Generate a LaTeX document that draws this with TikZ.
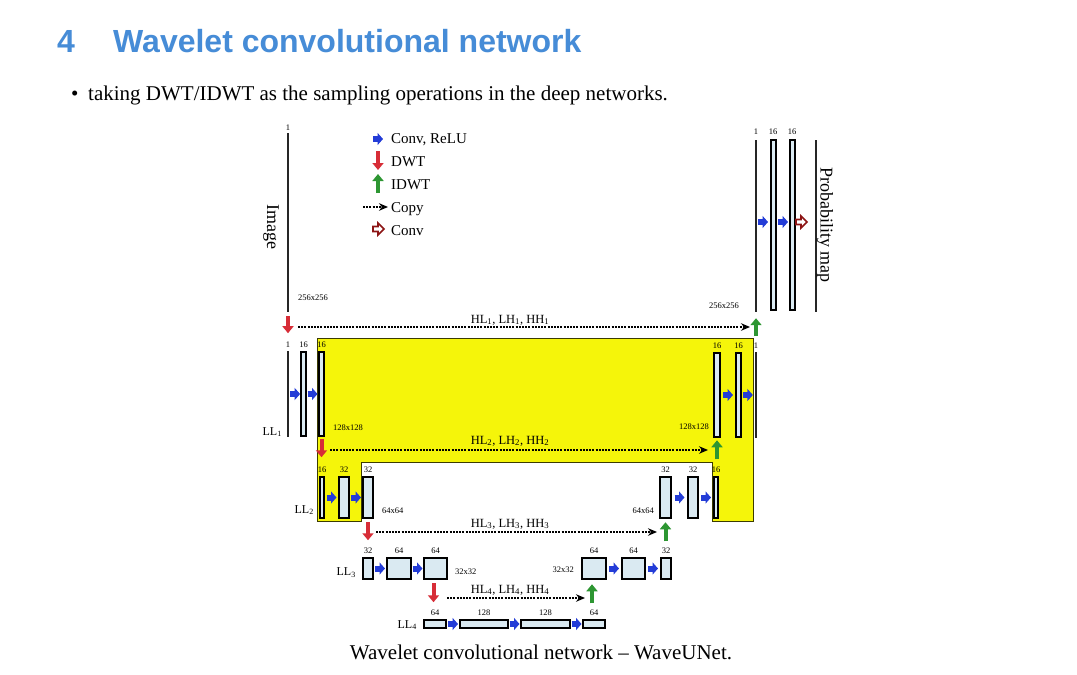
\documentclass[tikz,border=0pt]{standalone}
\usepackage{fontspec}
\setmainfont{Liberation Serif}
\newfontfamily\titlefont{Liberation Sans}
\usetikzlibrary{arrows.meta,calc}
\definecolor{titleblue}{RGB}{70,140,215}
\definecolor{convblue}{RGB}{35,60,215}
\definecolor{dwtred}{RGB}{215,45,55}
\definecolor{idwtgreen}{RGB}{45,150,50}
\definecolor{convdark}{RGB}{140,20,20}
\definecolor{mapfill}{RGB}{218,234,242}
\definecolor{skipyellow}{RGB}{245,245,10}
\definecolor{skipedge}{RGB}{60,60,0}
\newcommand\fmbox[5]{\node[fmap,minimum width={#3-#2-1.5},minimum height={#5-#4-1.5}] (#1) at ({(#2+#3)/2},{(#4+#5)/2}) {};}
\newcommand\fmline[4]{\node[fline,minimum height={#4-#3}] (#1) at (#2,{(#3+#4)/2}) {};}
\newcommand\toplab[2]{\node[num,anchor=south] at ($(#1.north)+(0,-3.5)$) {#2};}
\newcommand\convarr[2]{\draw[convrelu] ($(#1.east)!.5!(#2.west)+(-5,0)$) -- ++(10,0);}
\begin{document}
\begin{tikzpicture}[x=1pt,y=-1pt,
  fmap/.style={draw=black,line width=1.7pt,fill=mapfill,inner sep=0pt,outer sep=0pt},
  fline/.style={fill=black!85,draw=none,inner sep=0pt,minimum width=2.6pt},
  num/.style={font=\fontsize{8.5}{9}\selectfont,inner sep=0pt},
  dimlab/.style={font=\fontsize{8.5}{9}\selectfont,inner sep=0pt},
  lvl/.style={font=\fontsize{12}{12}\selectfont,inner sep=0pt,anchor=east},
  hlab/.style={font=\fontsize{12.5}{13}\selectfont,inner sep=0pt},
  legendtxt/.style={font=\fontsize{15}{15}\selectfont,inner sep=0pt,anchor=base west},
  convrelu/.style={draw=convblue,line width=6pt,-{Triangle[length=5.5pt,width=12pt]}},
  dwt/.style={draw=dwtred,line width=4pt,-{Triangle[length=7pt,width=11pt]}},
  idwt/.style={draw=idwtgreen,line width=4pt,-{Triangle[length=7pt,width=11pt]}},
  copyarrow/.style={draw=black,line width=1.2pt,dash pattern=on 2pt off 1.2pt,-{Stealth[length=9pt,width=7.5pt]}},
  convout/.pic={\draw[convdark,line width=1.6pt,fill=white,line join=miter] (-5,-2.5) -- (0,-2.5) -- (0,-6) -- (6,0) -- (0,6) -- (0,2.5) -- (-5,2.5) -- cycle;}
]
\useasboundingbox (0,0) rectangle (1077,675);
\fill[white] (0,0) rectangle (1077,675);

% title
\node[anchor=base west,inner sep=0pt,font=\titlefont\bfseries\fontsize{32}{32}\selectfont,text=titleblue] (num4) at (57,52) {4};
\node[anchor=base west,inner sep=0pt,font=\titlefont\bfseries\fontsize{32}{32}\selectfont,text=titleblue] (title) at (113,52) {Wavelet convolutional network};
\node[anchor=base west,inner sep=0pt,font=\fontsize{21}{21}\selectfont] (bul) at (71,100) {\textbullet};
\node[anchor=base west,inner sep=0pt,font=\fontsize{21}{21}\selectfont] (sub) at (88,100) {taking DWT/IDWT as the sampling operations in the deep networks.};

% legend
\coordinate (lg1) at (378,139);
\draw[convrelu] ($(lg1)+(-5,0)$) -- ++(10,0);
\node[legendtxt] (lt1) at (391,143) {Conv, ReLU};
\draw[dwt] (378,151) -- (378,170);
\node[legendtxt] (lt2) at (391,166) {DWT};
\draw[idwt] (378,193) -- (378,174);
\node[legendtxt] (lt3) at (391,189) {IDWT};
\coordinate (lgc1) at (363,207);
\coordinate (lgc2) at (388,207);
\draw[copyarrow] (lgc1) -- (lgc2);
\node[legendtxt] (lt4) at (391,212) {Copy};
\pic at (378,229) {convout};
\node[legendtxt] (lt5) at (391,235) {Conv};

% yellow skip region
\draw[fill=skipyellow,draw=skipedge,line width=1pt] (317,338) -- (753,338) -- (753,521) -- (712,521) -- (712,462) -- (361,462) -- (361,521) -- (317,521) -- cycle;

% level 0 : input image
\fmline{img}{288}{133}{312}
\node[num,anchor=south] at ($(img.north)+(0,-2.5)$) {1};
\node[rotate=-90,inner sep=0pt,font=\fontsize{18}{18}\selectfont] (imgtxt) at (271,227) {Image};
\node[dimlab,anchor=west] at (298,298) {256x256};

% level 0 : output
\fmline{r0a}{756}{140}{312}
\fmbox{r0b}{770}{777}{139}{311}
\fmbox{r0c}{789}{796}{139}{311}
\fmline{r0d}{816}{140}{312}
\node[num,anchor=south] at (756,135) {1};
\node[num,anchor=south] at (773,135) {16};
\node[num,anchor=south] at (792,135) {16};
\node[rotate=-90,inner sep=0pt,font=\fontsize{18}{18}\selectfont] (probtxt) at (825,225) {Probability map};
\node[dimlab,anchor=east] at (739,306) {256x256};
\draw[convrelu] (758,222) -- ++(10,0);
\draw[convrelu] (778,222) -- ++(10,0);
\pic at (801,222) {convout};

% level 0 skip
\draw[dwt] ($(img.south)+(0,4)$) -- ++(0,17);
\coordinate (c1s) at (298,327);
\coordinate (c1e) at (750,327);
\draw[copyarrow] (c1s) -- (c1e);
\node[hlab] at (510,320) {HL\textsubscript{1}, LH\textsubscript{1}, HH\textsubscript{1}};
\draw[idwt] ($(r0a.south)+(0,24)$) -- ++(0,-18);

% level 1
\fmline{l1a}{288}{351}{437}
\fmbox{l1b}{300}{307}{351}{437}
\fmbox{l1c}{318}{325}{351}{437}
\toplab{l1a}{1}\toplab{l1b}{16}\toplab{l1c}{16}
\convarr{l1a}{l1b}\convarr{l1b}{l1c}
\node[lvl] at (282,432) {LL\textsubscript{1}};
\node[dimlab,anchor=west] at (333,428) {128x128};

\fmbox{r1a}{713}{721}{352}{438}
\fmbox{r1b}{735}{742}{352}{438}
\fmline{r1c}{756}{352}{438}
\toplab{r1a}{16}\toplab{r1b}{16}\toplab{r1c}{1}
\convarr{r1a}{r1b}\convarr{r1b}{r1c}
\node[dimlab,anchor=east] at (709,427) {128x128};

\draw[dwt] ($(l1c.south)+(0,3)$) -- ++(0,18);
\coordinate (c2s) at (330,450);
\coordinate (c2e) at (708,450);
\draw[copyarrow] (c2s) -- (c2e);
\node[hlab] at (510,441) {HL\textsubscript{2}, LH\textsubscript{2}, HH\textsubscript{2}};
\draw[idwt] ($(r1a.south)+(0,22)$) -- ++(0,-19);

% level 2
\fmbox{l2a}{319}{325}{476}{519}
\fmbox{l2b}{338}{350}{476}{519}
\fmbox{l2c}{362}{374}{476}{519}
\toplab{l2a}{16}\toplab{l2b}{32}\toplab{l2c}{32}
\convarr{l2a}{l2b}\convarr{l2b}{l2c}
\node[lvl] at (314,510) {LL\textsubscript{2}};
\node[dimlab,anchor=west] at (382,511) {64x64};

\fmbox{r2a}{659}{672}{476}{519}
\fmbox{r2b}{687}{699}{476}{519}
\fmbox{r2c}{713}{719}{476}{519}
\toplab{r2a}{32}\toplab{r2b}{32}\toplab{r2c}{16}
\convarr{r2a}{r2b}\convarr{r2b}{r2c}
\node[dimlab,anchor=east] at (654,511) {64x64};

\draw[dwt] ($(l2c.south)+(0,4)$) -- ++(0,18);
\coordinate (c3s) at (376,532);
\coordinate (c3e) at (657,532);
\draw[copyarrow] (c3s) -- (c3e);
\node[hlab] at (510,524) {HL\textsubscript{3}, LH\textsubscript{3}, HH\textsubscript{3}};
\draw[idwt] ($(r2a.south)+(0,23)$) -- ++(0,-19);

% level 3
\fmbox{l3a}{362}{374}{557}{580}
\fmbox{l3b}{386}{412}{557}{580}
\fmbox{l3c}{423}{448}{557}{580}
\toplab{l3a}{32}\toplab{l3b}{64}\toplab{l3c}{64}
\convarr{l3a}{l3b}\convarr{l3b}{l3c}
\node[lvl] at (356,573) {LL\textsubscript{3}};
\node[dimlab,anchor=west] at (455,572) {32x32};

\fmbox{r3a}{581}{607}{557}{580}
\fmbox{r3b}{621}{646}{557}{580}
\fmbox{r3c}{660}{672}{557}{580}
\toplab{r3a}{64}\toplab{r3b}{64}\toplab{r3c}{32}
\convarr{r3a}{r3b}\convarr{r3b}{r3c}
\node[dimlab,anchor=east] at (574,570) {32x32};

\draw[dwt] ($(l3c.south)+(-2,4)$) -- ++(0,19);
\coordinate (c4s) at (447,598);
\coordinate (c4e) at (585,598);
\draw[copyarrow] (c4s) -- (c4e);
\node[hlab] at (510,590) {HL\textsubscript{4}, LH\textsubscript{4}, HH\textsubscript{4}};
\draw[idwt] ($(r3a.south)+(-2,24)$) -- ++(0,-19);

% level 4
\fmbox{l4a}{423}{447}{619}{629}
\fmbox{l4b}{459}{509}{619}{629}
\fmbox{l4c}{520}{571}{619}{629}
\fmbox{l4d}{582}{606}{619}{629}
\toplab{l4a}{64}\toplab{l4b}{128}\toplab{l4c}{128}\toplab{l4d}{64}
\convarr{l4a}{l4b}\convarr{l4b}{l4c}\convarr{l4c}{l4d}
\node[lvl] at (417,625) {LL\textsubscript{4}};

% caption
\node[inner sep=0pt,font=\fontsize{21}{21}\selectfont] (cap) at (541,652) {Wavelet convolutional network -- WaveUNet.};
\end{tikzpicture}
\end{document}
